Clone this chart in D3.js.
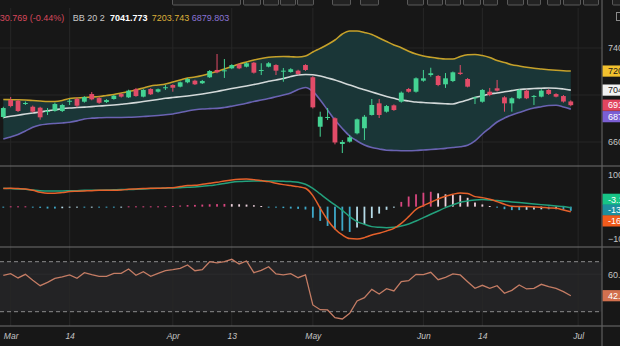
<!DOCTYPE html>
<html>
<head>
<meta charset="utf-8">
<script src="https://cdn.jsdelivr.net/npm/d3@7/dist/d3.min.js"></script>
<style>
  html, body { margin: 0; padding: 0; background: #171717; overflow: hidden; }
  svg { display: block; font-family: "Liberation Sans", Arial, sans-serif; }
</style>
</head>
<body>
<svg id="chart" width="620" height="346"></svg>
<script>
// ---- Daily candles -------------------------------------------------------
const opens = [6813, 6957, 6951, 6925, 6900, 6892, 6855, 6866, 6864, 6945,
  6966, 6943, 7008, 6974, 6940, 6966, 7008, 6980, 7049, 6986,
  7051, 7028, 7060, 7085, 7071, 7108, 7122, 7100, 7151, 7213,
  7204, 7227, 7261, 7241, 7275, 7208, 7241, 7255, 7200, 7196,
  7207, 7255, 7151, 6730, 6808, 6802, 6583, 6603, 6674, 6717,
  6830, 6929, 6858, 6912, 6943, 7051, 7028, 7122, 7170, 7162,
  7091, 7119, 7190, 7136, 6975, 6943, 7028, 7057, 6980, 6929,
  6972, 7037, 6987, 6986, 7043, 7008, 6991, 6945];
const highs = [6900, 6983, 6960, 6945, 6910, 6900, 6889, 6935, 6925, 6966,
  6980, 6990, 7025, 6985, 6965, 7000, 7015, 7045, 7060, 7050,
  7058, 7055, 7085, 7092, 7115, 7145, 7130, 7128, 7212, 7349,
  7306, 7262, 7268, 7278, 7282, 7270, 7280, 7262, 7230, 7228,
  7215, 7262, 7160, 6858, 6889, 6810, 6617, 6660, 6800, 6830,
  6966, 6966, 6915, 6920, 7030, 7060, 7150, 7213, 7232, 7170,
  7187, 7200, 7255, 7145, 6985, 7050, 7060, 7128, 6990, 6980,
  7050, 7045, 7000, 7050, 7050, 7015, 7000, 6955];
const lows = [6800, 6895, 6855, 6915, 6850, 6790, 6830, 6858, 6855, 6915,
  6895, 6935, 6955, 6925, 6932, 6960, 6978, 6975, 6985, 6980,
  7000, 7020, 7043, 7028, 7065, 7100, 7085, 7094, 7145, 7185,
  7145, 7220, 7220, 7235, 7182, 7170, 7235, 7170, 7113, 7190,
  7172, 7205, 6885, 6645, 6787, 6580, 6506, 6595, 6665, 6617,
  6825, 6804, 6850, 6865, 6935, 7020, 7020, 7113, 7156, 7075,
  7060, 7110, 7170, 7065, 6923, 6935, 6990, 7030, 6858, 6858,
  6965, 6965, 6915, 6980, 7000, 6980, 6935, 6905];
const closes = [6889, 6906, 6864, 6932, 6858, 6810, 6864, 6923, 6915, 6951,
  6909, 6983, 6963, 6934, 6957, 6994, 6986, 7037, 6991, 7043,
  7006, 7049, 7066, 7062, 7108, 7136, 7091, 7119, 7204, 7193,
  7210, 7255, 7227, 7270, 7190, 7213, 7270, 7207, 7207, 7219,
  7179, 7213, 6895, 6815, 6813, 6596, 6600, 6640, 6793, 6815,
  6915, 6830, 6906, 6872, 7020, 7028, 7142, 7142, 7185, 7085,
  7142, 7193, 7179, 7071, 6980, 7043, 7000, 7037, 6929, 6972,
  7043, 6972, 6992, 7037, 7009, 6986, 6944.269, 6913.5];

// ---- Bollinger Bands (20, 2) ----------------------------------------------
const bbUpper = [6962, 6960, 6959, 6957, 6953, 6949, 6945, 6945, 6953, 6970,
  6975, 6979, 6983, 6987, 6996, 7004, 7017, 7030, 7043, 7060,
  7077, 7085, 7094, 7111, 7128, 7145, 7153, 7166, 7183, 7200,
  7221, 7243, 7264, 7281, 7298, 7311, 7321, 7326, 7328, 7326,
  7323, 7332, 7366, 7397, 7430, 7468, 7519, 7545, 7545, 7532,
  7515, 7485, 7455, 7426, 7402, 7373, 7349, 7332, 7321, 7312,
  7306, 7306, 7328, 7342, 7345, 7336, 7319, 7294, 7277, 7258,
  7247, 7236, 7227, 7221, 7215, 7210, 7206, 7203.743];
const bbMiddle = [6809, 6819, 6828, 6838, 6847, 6855, 6866, 6874, 6883, 6889,
  6893, 6897, 6901, 6906, 6910, 6915, 6921, 6927, 6935, 6944,
  6953, 6962, 6972, 6979, 6985, 6992, 7000, 7009, 7019, 7030,
  7043, 7055, 7066, 7077, 7089, 7102, 7117, 7128, 7140, 7157,
  7170, 7174, 7172, 7162, 7145, 7128, 7106, 7085, 7064, 7045,
  7026, 7006, 6987, 6972, 6957, 6949, 6940, 6936, 6932, 6929,
  6926, 6923, 6940, 6957, 6979, 6993, 7009, 7017, 7027, 7037,
  7047, 7051, 7055, 7057, 7060, 7058, 7051, 7041.773];
const bbLower = [6626, 6643, 6664, 6694, 6725, 6745, 6753, 6758, 6762, 6768,
  6780, 6796, 6803, 6806, 6808, 6809, 6809, 6810, 6813, 6817,
  6821, 6826, 6832, 6838, 6851, 6864, 6874, 6881, 6884, 6886,
  6894, 6905, 6917, 6930, 6945, 6957, 6970, 6985, 7000, 7017,
  7047, 7064, 7030, 6957, 6872, 6787, 6715, 6651, 6609, 6575,
  6553, 6541, 6530, 6528, 6526, 6526, 6528, 6532, 6536, 6541,
  6546, 6553, 6560, 6572, 6609, 6668, 6719, 6770, 6804, 6830,
  6851, 6872, 6889, 6900, 6911, 6913, 6898, 6879.803];
const bbLabel = "BB 20 2";

// ---- MACD ------------------------------------------------------------------
const macdLine = [57.0, 58.0, 57.0, 55.9, 51.7, 45.4, 42.2, 42.2, 44.3, 47.5,
  48.6, 49.6, 50.6, 51.7, 51.7, 51.7, 52.7, 54.9, 55.9, 57.0,
  58.0, 58.0, 59.1, 60.1, 63.3, 66.5, 67.5, 70.7, 73.8, 77.0,
  81.2, 84.4, 86.5, 87.5, 85.4, 82.3, 79.1, 73.8, 69.6, 66.5,
  63.3, 58.0, 34.9, -5.2, -42.0, -70.5, -89.4, -101.0, -102.1, -97.8,
  -89.4, -84.2, -76.8, -68.4, -52.6, -31.5, -8.3, 3.3, 13.8, 24.3,
  32.7, 39.1, 43.3, 41.2, 31.7, 28.5, 23.3, 15.9, 7.5, 1.1,
  0.1, 0.1, -0.9, -2.0, -4.1, -5.2, -10.4, -16.36];
const macdSignal = [58.0, 57.0, 55.9, 54.9, 52.7, 50.6, 49.6, 49.6, 49.6, 50.1,
  50.6, 51.7, 51.7, 52.2, 52.7, 53.3, 53.8, 53.8, 54.9, 55.9,
  57.0, 58.0, 58.5, 59.1, 60.1, 61.2, 62.2, 64.3, 66.5, 69.6,
  72.8, 77.0, 79.1, 80.1, 80.7, 81.2, 81.2, 81.2, 80.1, 79.1,
  77.0, 70.7, 58.0, 40.1, 22.2, 5.4, -11.5, -31.5, -47.3, -55.7,
  -63.1, -65.2, -66.3, -65.2, -61.0, -54.7, -45.2, -34.7, -24.1, -13.6,
  -3.1, 5.4, 13.8, 18.0, 21.2, 22.2, 21.2, 19.1, 17.0, 14.9,
  12.8, 10.6, 8.5, 6.4, 4.3, 2.2, 0.1, -3.16];
const macdHist = [-1, 1, 1, 1, -1.5, -4, -6, -6, -5, -3,
  -2, -2, -1, -1, -1, -1.5, -1, 1, 1, 1,
  1, 1, 1.5, 2, 3.5, 5, 5.5, 6.5, 7.5, 8,
  8.5, 8, 7.5, 6.5, 4.5, 2, -1.5, -3, -4.5, -6,
  -7, -9, -35, -45, -61, -72, -76, -80, -66, -56,
  -36, -22, -10, -3, 15, 32, 39, 44, 47, 42,
  39, 37, 36, 28, 13, 7, 2, -3, -8, -11,
  -11, -10, -9, -8.5, -8.5, -8, -10, -13.2];

// ---- RSI -------------------------------------------------------------------
const rsiValues = [59.1, 60.4, 57.0, 59.9, 55.1, 50.8, 53.5, 56.7, 57.8, 59.4,
  56.7, 61.2, 59.6, 58.3, 58.3, 60.7, 60.7, 64.2, 59.1, 62.0,
  58.3, 60.7, 62.8, 63.6, 64.7, 67.4, 62.8, 63.6, 70.0, 69.0,
  70.0, 71.9, 68.2, 70.6, 61.2, 63.1, 66.0, 60.2, 59.4, 60.4,
  57.2, 59.4, 35.4, 31.6, 31.4, 25.2, 24.2, 28.7, 38.6, 41.2,
  47.9, 44.2, 48.4, 46.6, 54.0, 54.8, 59.9, 59.6, 61.5, 55.6,
  57.5, 60.2, 59.4, 54.0, 48.7, 51.1, 48.7, 50.8, 44.7, 47.1,
  51.4, 48.2, 48.7, 51.9, 50.0, 48.7, 46.0, 42.8];
const rsiLevels = [30, 70];

// ---- Axis ticks --------------------------------------------------------------
const dateTickIndex = [1, 9, 23, 31, 42, 57, 65, 78];
const dateTickLabels = ["Mar", "14", "Apr", "13", "May", "Jun", "14", "Jul"];
const priceGrid = [6600, 7000, 7400];
const priceTicks = [6600, 7400];
const macdTicks = [-100, 100];
const rsiTicks = [60];

// ---- Layout ----------------------------------------------------------------
const W = 620, H = 346, AXIS_X = 602;
const P = { top: 8, bottom: 166 };      // price pane
const M = { top: 166, bottom: 247 };    // MACD pane
const R = { top: 247, bottom: 326 };    // RSI pane

const C = {
  bg: "#171717", grid: "#272727", sep: "#707070", axisText: "#c4c4c4",
  up: "#44d393", down: "#e24c68",
  bbFill: "#1a3637", bbUpper: "#c6a12a", bbMiddle: "#d3d9d9", bbLower: "#6a63b2",
  macd: "#e5612b", signal: "#23a07c",
  histUp: "#d9467f", histUpFade: "#edd2dd", histDown: "#3ea8c8", histDownFade: "#b6dbe8",
  rsi: "#c47c64", rsiBand: "#232325"
};

const svg = d3.select("#chart");
const n = closes.length;
const x = d3.scaleLinear().domain([0, n - 1]).range([3.3, 570.8]);
const yP = d3.scaleLinear().domain([6600, 7400]).range([142, 48]);
const yM = d3.scaleLinear().domain([-100, 100]).range([238.3, 175]);
const yR = d3.scaleLinear().domain([30, 70]).range([311.7, 261.7]);
const idx = d3.range(n);

svg.append("rect").attr("width", W).attr("height", H).attr("fill", C.bg);

// clip regions for the three panes
const defs = svg.append("defs");
[["clipP", P], ["clipM", M], ["clipR", R]].forEach(([id, p]) => {
  defs.append("clipPath").attr("id", id).append("rect")
    .attr("x", 0).attr("y", p.top).attr("width", AXIS_X).attr("height", p.bottom - p.top);
});

// RSI background band between 30 and 70
svg.append("rect").attr("x", 0).attr("width", AXIS_X)
  .attr("y", yR(rsiLevels[1])).attr("height", yR(rsiLevels[0]) - yR(rsiLevels[1]))
  .attr("fill", C.rsiBand);

// vertical grid through all panes
svg.append("g").selectAll("line").data(dateTickIndex).join("line")
  .attr("x1", d => x(d)).attr("x2", d => x(d))
  .attr("y1", P.top).attr("y2", R.bottom)
  .attr("stroke", C.grid).attr("stroke-width", 1);

// horizontal grid
svg.append("g").selectAll("line").data(priceGrid).join("line")
  .attr("x1", 0).attr("x2", AXIS_X).attr("y1", d => yP(d)).attr("y2", d => yP(d))
  .attr("stroke", C.grid);
svg.append("g").selectAll("line").data(rsiTicks).join("line")
  .attr("x1", 0).attr("x2", AXIS_X).attr("y1", d => yR(d)).attr("y2", d => yR(d))
  .attr("stroke", "#2c2c2e");

// ---- Price pane ------------------------------------------------------------
const gP = svg.append("g").attr("clip-path", "url(#clipP)");
gP.append("path").datum(idx)
  .attr("d", d3.area().x(i => x(i)).y0(i => yP(bbLower[i])).y1(i => yP(bbUpper[i])).curve(d3.curveMonotoneX))
  .attr("fill", C.bbFill);
[[bbUpper, C.bbUpper], [bbMiddle, C.bbMiddle], [bbLower, C.bbLower]].forEach(([arr, col]) => {
  gP.append("path").datum(idx)
    .attr("d", d3.line().x(i => x(i)).y(i => yP(arr[i])).curve(d3.curveMonotoneX))
    .attr("fill", "none").attr("stroke", col).attr("stroke-width", 1.6);
});
const candle = gP.append("g").selectAll("g").data(idx).join("g");
const colOf = i => closes[i] >= opens[i] ? C.up : C.down;
candle.append("line")
  .attr("x1", i => x(i)).attr("x2", i => x(i))
  .attr("y1", i => yP(highs[i])).attr("y2", i => yP(lows[i]))
  .attr("stroke", colOf).attr("stroke-width", 1);
candle.append("rect")
  .attr("x", i => x(i) - 2.4).attr("width", 4.8)
  .attr("y", i => yP(Math.max(opens[i], closes[i])))
  .attr("height", i => Math.max(1, Math.abs(yP(opens[i]) - yP(closes[i]))))
  .attr("fill", colOf);

// ---- MACD pane -------------------------------------------------------------
const gM = svg.append("g").attr("clip-path", "url(#clipM)");
const histColor = i => {
  const h = macdHist[i], prev = i > 0 ? macdHist[i - 1] : h;
  if (h >= 0) return h >= prev ? C.histUp : C.histUpFade;
  return h <= prev ? C.histDown : C.histDownFade;
};
gM.append("g").selectAll("rect").data(idx).join("rect")
  .attr("x", i => x(i) - 0.9).attr("width", 1.8)
  .attr("y", i => Math.min(yM(0), yM(macdHist[i])))
  .attr("height", i => Math.max(1, Math.abs(yM(macdHist[i]) - yM(0))))
  .attr("fill", histColor);
[[macdSignal, C.signal], [macdLine, C.macd]].forEach(([arr, col]) => {
  gM.append("path").datum(idx)
    .attr("d", d3.line().x(i => x(i)).y(i => yM(arr[i])).curve(d3.curveMonotoneX))
    .attr("fill", "none").attr("stroke", col).attr("stroke-width", 1.5);
});

// ---- RSI pane --------------------------------------------------------------
const gR = svg.append("g").attr("clip-path", "url(#clipR)");
gR.selectAll("line.lvl").data(rsiLevels).join("line").attr("class", "lvl")
  .attr("x1", 0).attr("x2", AXIS_X).attr("y1", d => yR(d)).attr("y2", d => yR(d))
  .attr("stroke", "#8c8c8c").attr("stroke-dasharray", "4,3").attr("stroke-width", 1);
gR.append("path").datum(idx)
  .attr("d", d3.line().x(i => x(i)).y(i => yR(rsiValues[i])))
  .attr("fill", "none").attr("stroke", C.rsi).attr("stroke-width", 1.3);

// ---- Pane separators -----------------------------------------------------------
svg.append("g").selectAll("line").data([M.top, R.top, R.bottom]).join("line")
  .attr("x1", 0).attr("x2", W).attr("y1", d => d).attr("y2", d => d)
  .attr("stroke", C.sep).attr("stroke-width", 1.2);
svg.append("line").attr("x1", AXIS_X).attr("x2", AXIS_X).attr("y1", 0).attr("y2", H)
  .attr("stroke", "#5e5e5e").attr("stroke-width", 1.2);

// ---- Axes --------------------------------------------------------------------
function styleAxis(g) {
  g.select(".domain").remove();
  g.selectAll("text").attr("fill", C.axisText).attr("font-size", 9)
    .attr("font-family", "Liberation Sans, Arial, sans-serif");
}
svg.append("g").attr("transform", `translate(${AXIS_X},0)`)
  .call(d3.axisRight(yP).tickValues(priceTicks).tickSize(0).tickPadding(6).tickFormat(d3.format("d")))
  .call(styleAxis);
svg.append("g").attr("transform", `translate(${AXIS_X},0)`)
  .call(d3.axisRight(yM).tickValues(macdTicks).tickSize(0).tickPadding(6).tickFormat(d3.format(".2f")))
  .call(styleAxis);
svg.append("g").attr("transform", `translate(${AXIS_X},0)`)
  .call(d3.axisRight(yR).tickValues(rsiTicks).tickSize(0).tickPadding(6).tickFormat(d3.format(".2f")))
  .call(styleAxis);
svg.append("g").attr("transform", `translate(0,${R.bottom})`)
  .call(d3.axisBottom(x).tickValues(dateTickIndex).tickSize(0).tickPadding(7)
    .tickFormat((d, i) => dateTickLabels[i]))
  .call(styleAxis)
  .call(g => g.selectAll("text").attr("font-size", 8.5).attr("font-style", "italic"));

// ---- Last-value tags on the right axis --------------------------------------
function spread(items, gap, mode) {
  items.sort((a, b) => a.y - b.y);
  if (mode === "down") {
    for (let i = 1; i < items.length; i++)
      if (items[i].y < items[i - 1].y + gap) items[i].y = items[i - 1].y + gap;
  } else {
    for (let k = 0; k < 60; k++)
      for (let i = 1; i < items.length; i++) {
        const d = items[i - 1].y + gap - items[i].y;
        if (d > 0) { items[i - 1].y -= d / 2; items[i].y += d / 2; }
      }
  }
  return items;
}
function drawTags(items) {
  const g = svg.append("g").selectAll("g").data(items).join("g")
    .attr("transform", d => `translate(${AXIS_X + 0.6},${d.y})`);
  g.append("rect").attr("x", 0).attr("y", -5.6).attr("width", 24).attr("height", 11.2)
    .attr("fill", d => d.fill);
  g.append("text").attr("x", 5.5).attr("y", 3.3).attr("font-size", 9)
    .attr("fill", d => d.ink).text(d => d.text);
}
const L = n - 1;
drawTags(spread([
  { y: yP(bbUpper[L]), fill: "#f2c12e", ink: "#1a1a1a", text: bbUpper[L].toFixed(3) },
  { y: yP(bbMiddle[L]), fill: "#f2f2f2", ink: "#1a1a1a", text: bbMiddle[L].toFixed(3) },
  { y: yP(closes[L]), fill: "#e2455f", ink: "#ffffff", text: closes[L].toFixed(3) },
  { y: yP(bbLower[L]), fill: "#7b5fd4", ink: "#ffffff", text: bbLower[L].toFixed(3) }
], 11.5, "down"));
drawTags(spread([
  { y: yM(macdSignal[L]), fill: "#17c486", ink: "#ffffff", text: macdSignal[L].toFixed(2) },
  { y: yM(macdHist[L]), fill: "#1d8f9e", ink: "#ffffff", text: macdHist[L].toFixed(2) },
  { y: yM(macdLine[L]), fill: "#f25b1c", ink: "#ffffff", text: macdLine[L].toFixed(2) }
], 10.8, "center"));
drawTags([{ y: yR(rsiValues[L]), fill: "#d2704e", ink: "#ffffff", text: rsiValues[L].toFixed(2) }]);

// ---- Legend line ---------------------------------------------------------------
const chg = closes[L] - closes[L - 1];
const pct = chg / closes[L - 1] * 100;
const legend = svg.append("text").attr("y", 20.5).attr("font-size", 9);
legend.append("tspan").attr("x", -3.2).attr("fill", "#d8485d")
  .text(`${chg.toFixed(3)} (${pct.toFixed(2)}%)`);
legend.append("tspan").attr("x", 72.7).attr("fill", "#c8c8c8").text(bbLabel);
legend.append("tspan").attr("x", 110).attr("fill", "#ffffff").attr("font-weight", "bold")
  .text(bbMiddle[L].toFixed(3));
legend.append("tspan").attr("x", 151.7).attr("fill", "#dcb03a").text(bbUpper[L].toFixed(3));
legend.append("tspan").attr("x", 191.7).attr("fill", "#8a74d6").text(bbLower[L].toFixed(3));

// ---- Toolbar strip along the top edge -------------------------------------------
const toolbar = [[172, 240], [243, 260], [263, 278], [280, 295], [297, 313], [332, 350],
  [360, 378], [407, 423], [427, 442], [445, 460], [463, 480], [483, 497], [507, 523],
  [527, 540], [547, 560], [563, 580], [583, 598], [612, 630]];
svg.append("g").selectAll("rect").data(toolbar).join("rect")
  .attr("x", d => d[0] + 0.5).attr("y", -8).attr("width", d => d[1] - d[0]).attr("height", 13)
  .attr("rx", 1).attr("fill", "#222222").attr("stroke", "#5a5a5a").attr("stroke-width", 1);
svg.append("rect").attr("x", 616.5).attr("y", 12.5).attr("width", 10).attr("height", 8)
  .attr("fill", "none").attr("stroke", "#8a8a8a");
</script>
</body>
</html>
